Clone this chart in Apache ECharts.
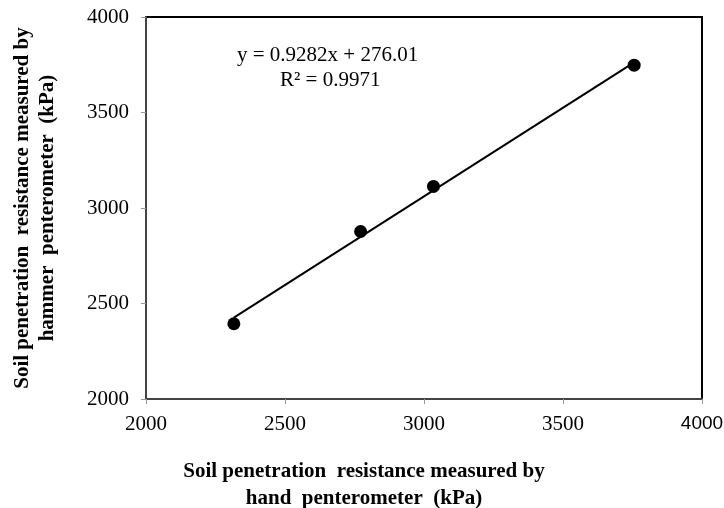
<!DOCTYPE html>
<html>
<head>
<meta charset="utf-8">
<script src="https://cdn.jsdelivr.net/npm/echarts@6/dist/echarts.min.js"></script>
<style>html,body{margin:0;padding:0;background:#fff}#c{width:724px;height:508px}</style>
</head>
<body>
<div id="c"></div>
<script>
const handValues = [2316, 2772, 3034, 3756];
const hammerValues = [2394, 2877, 3113, 3748];
const slope = 0.9282;
const intercept = 276.01;
const equationText = 'y = 0.9282x + 276.01';
const r2Text = 'R\u00b2 = 0.9971';
const xAxisName = 'Soil penetration  resistance measured by\nhand  penterometer  (kPa)';
const yAxisName = 'Soil penetration  resistance measured by\nhammer  penterometer  (kPa)';

const pts = handValues.map((x, i) => [x, hammerValues[i]]);
const xMin = Math.min(...handValues), xMax = Math.max(...handValues);
const trend = [[xMin, slope * xMin + intercept], [xMax, slope * xMax + intercept]];

const serif = '"Liberation Serif", "DejaVu Serif", serif';
const sans = '"Liberation Sans", "DejaVu Sans", sans-serif';
const chart = echarts.init(document.getElementById('c'));
chart.setOption({
  animation: false,
  backgroundColor: '#fff',
  grid: { left: 146, right: 22, top: 17, bottom: 109, outerBoundsMode: 'none', containLabel: false,
          show: true, borderColor: '#000', borderWidth: 2, backgroundColor: 'transparent' },
  xAxis: {
    type: 'value', min: 2000, max: 4000, interval: 500,
    name: xAxisName, nameLocation: 'middle', nameGap: 59,
    nameTextStyle: { fontFamily: serif, fontWeight: 'bold', fontSize: 21, color: '#000', lineHeight: 27, padding: [0, 120, 0, 0] },
    axisLine: { show: true, lineStyle: { color: '#444', width: 2 } },
    axisTick: { show: true, inside: false, length: 5, lineStyle: { color: '#999', width: 1 } },
    axisLabel: {
      fontFamily: serif, fontSize: 21, color: '#000', margin: 15,
      formatter: v => v === 4000 ? '{s|' + v + '}' : String(v),
      rich: { s: { fontFamily: sans, fontSize: 19, color: '#000' } }
    },
    splitLine: { show: false }
  },
  yAxis: {
    type: 'value', min: 2000, max: 4000, interval: 500,
    name: yAxisName, nameLocation: 'middle', nameGap: 86,
    nameTextStyle: { fontFamily: serif, fontWeight: 'bold', fontSize: 21, color: '#000', lineHeight: 25 },
    axisLine: { show: true, lineStyle: { color: '#444', width: 2 } },
    axisTick: { show: true, inside: false, length: 5, lineStyle: { color: '#999', width: 1 } },
    axisLabel: { fontFamily: serif, fontSize: 21, color: '#000', margin: 17, formatter: v => String(v) },
    splitLine: { show: false }
  },
  graphic: [
    { type: 'text', left: 237, top: 45, style: { text: equationText, fontFamily: serif, fontSize: 21, fill: '#000' } },
    { type: 'text', left: 280, top: 70, style: { text: r2Text, fontFamily: serif, fontSize: 21, fill: '#000' } }
  ],
  series: [
    { type: 'line', data: trend, symbol: 'none', lineStyle: { color: '#000', width: 2 }, z: 2 },
    { type: 'scatter', data: pts, symbol: 'circle', symbolSize: 13, itemStyle: { color: '#000', opacity: 1 }, z: 3 }
  ]
});
</script>
</body>
</html>
